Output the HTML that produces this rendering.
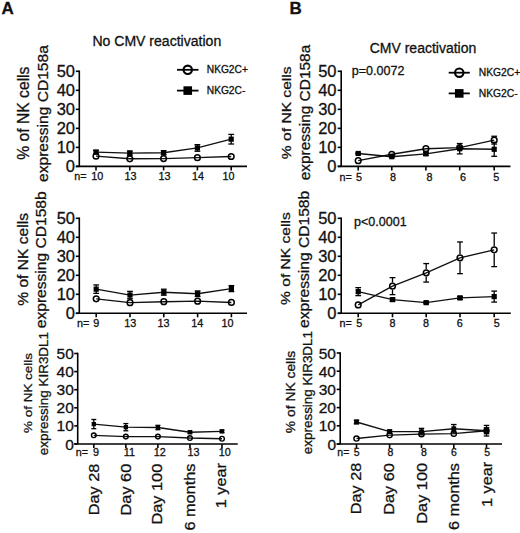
<!DOCTYPE html>
<html><head><meta charset="utf-8"><style>
html,body{margin:0;padding:0;background:#fff;}
svg{display:block;}
text{font-family:"Liberation Sans", sans-serif;fill:#111;stroke:#111;stroke-width:0.3px;}
</style></head><body>
<svg width="520" height="533" viewBox="0 0 520 533">
<text x="1.50" y="14.00" font-size="17" text-anchor="start" font-weight="bold">A</text>
<text x="289.50" y="14.00" font-size="17" text-anchor="start" font-weight="bold">B</text>
<text x="92.40" y="46.20" font-size="14.05" text-anchor="start" font-weight="normal">No CMV reactivation</text>
<text x="369.70" y="52.60" font-size="14.0" text-anchor="start" font-weight="normal">CMV reactivation</text>
<line x1="177" y1="69.8" x2="198.5" y2="69.8" stroke="#000" stroke-width="1.8"/>
<circle cx="187.75" cy="69.8" r="4.2" fill="none" stroke="#000" stroke-width="2.1"/>
<line x1="177" y1="90.6" x2="198.5" y2="90.6" stroke="#000" stroke-width="1.8"/>
<rect x="183.45" y="86.3" width="8.6" height="8.6" fill="#000"/>
<text x="206.80" y="73.45" font-size="10.2" text-anchor="start" font-weight="normal">NKG2C+</text>
<text x="206.80" y="94.25" font-size="10.2" text-anchor="start" font-weight="normal">NKG2C-</text>
<line x1="448.7" y1="72.7" x2="469.8" y2="72.7" stroke="#000" stroke-width="1.8"/>
<circle cx="459.25" cy="72.7" r="4.2" fill="none" stroke="#000" stroke-width="2.1"/>
<line x1="448.7" y1="93.4" x2="469.8" y2="93.4" stroke="#000" stroke-width="1.8"/>
<rect x="454.95" y="89.10000000000001" width="8.6" height="8.6" fill="#000"/>
<text x="478.80" y="76.39" font-size="10.3" text-anchor="start" font-weight="normal">NKG2C+</text>
<text x="478.80" y="97.09" font-size="10.3" text-anchor="start" font-weight="normal">NKG2C-</text>
<text x="351.80" y="75.00" font-size="12.55" text-anchor="start" font-weight="normal">p=0.0072</text>
<text x="354.00" y="225.80" font-size="12.55" text-anchor="start" font-weight="normal">p&lt;0.0001</text>
<text transform="translate(29.10,113.20) rotate(-90)" font-size="15.7" text-anchor="middle" font-weight="normal">% of NK cells</text>
<text transform="translate(47.60,113.60) rotate(-90) scale(1,0.95)" font-size="15.58" text-anchor="middle" font-weight="normal">expressing CD158a</text>
<text transform="translate(27.50,259.40) rotate(-90) scale(1,0.97)" font-size="15.6" text-anchor="middle" font-weight="normal">% of NK cells</text>
<text transform="translate(46.00,259.80) rotate(-90) scale(1,0.95)" font-size="15.6" text-anchor="middle" font-weight="normal">expressing CD158b</text>
<text transform="translate(32.00,393.00) rotate(-90) scale(1,0.88)" font-size="13.45" text-anchor="middle" font-weight="normal">% of NK cells</text>
<text transform="translate(47.80,393.60) rotate(-90) scale(1,0.9)" font-size="13.45" text-anchor="middle" font-weight="normal">expressing KIR3DL1</text>
<text transform="translate(291.30,112.80) rotate(-90) scale(1,0.87)" font-size="15.6" text-anchor="middle" font-weight="normal">% of NK cells</text>
<text transform="translate(310.00,112.55) rotate(-90) scale(1,0.93)" font-size="15.45" text-anchor="middle" font-weight="normal">expressing CD158a</text>
<text transform="translate(290.40,258.60) rotate(-90) scale(1,0.87)" font-size="15.6" text-anchor="middle" font-weight="normal">% of NK cells</text>
<text transform="translate(308.60,259.35) rotate(-90) scale(1,0.92)" font-size="15.62" text-anchor="middle" font-weight="normal">expressing CD158b</text>
<text transform="translate(295.00,392.00) rotate(-90) scale(1,0.98)" font-size="13.85" text-anchor="middle" font-weight="normal">% of NK cells</text>
<text transform="translate(311.60,392.60) rotate(-90) scale(1,0.98)" font-size="13.45" text-anchor="middle" font-weight="normal">expressing KIR3DL1</text>
<line x1="79.3" y1="70.5" x2="79.3" y2="166.4" stroke="#000" stroke-width="1.6"/>
<line x1="75.8" y1="166.4" x2="247" y2="166.4" stroke="#000" stroke-width="1.6"/>
<line x1="75.8" y1="166.40" x2="79.3" y2="166.40" stroke="#000" stroke-width="1.6"/>
<text x="75.00" y="172.31" font-size="16.5" text-anchor="end" font-weight="normal">0</text>
<line x1="75.8" y1="147.38" x2="79.3" y2="147.38" stroke="#000" stroke-width="1.6"/>
<text x="75.00" y="153.29" font-size="16.5" text-anchor="end" font-weight="normal">10</text>
<line x1="75.8" y1="128.36" x2="79.3" y2="128.36" stroke="#000" stroke-width="1.6"/>
<text x="75.00" y="134.27" font-size="16.5" text-anchor="end" font-weight="normal">20</text>
<line x1="75.8" y1="109.34" x2="79.3" y2="109.34" stroke="#000" stroke-width="1.6"/>
<text x="75.00" y="115.25" font-size="16.5" text-anchor="end" font-weight="normal">30</text>
<line x1="75.8" y1="90.32" x2="79.3" y2="90.32" stroke="#000" stroke-width="1.6"/>
<text x="75.00" y="96.23" font-size="16.5" text-anchor="end" font-weight="normal">40</text>
<line x1="75.8" y1="71.30" x2="79.3" y2="71.30" stroke="#000" stroke-width="1.6"/>
<text x="75.00" y="77.21" font-size="16.5" text-anchor="end" font-weight="normal">50</text>
<line x1="96.00" y1="166.4" x2="96.00" y2="170.4" stroke="#000" stroke-width="1.6"/>
<line x1="129.80" y1="166.4" x2="129.80" y2="170.4" stroke="#000" stroke-width="1.6"/>
<line x1="163.60" y1="166.4" x2="163.60" y2="170.4" stroke="#000" stroke-width="1.6"/>
<line x1="197.40" y1="166.4" x2="197.40" y2="170.4" stroke="#000" stroke-width="1.6"/>
<line x1="231.20" y1="166.4" x2="231.20" y2="170.4" stroke="#000" stroke-width="1.6"/>
<line x1="96.00" y1="150.33" x2="96.00" y2="152.13" stroke="#000" stroke-width="1.3"/>
<line x1="96.00" y1="152.13" x2="96.00" y2="153.94" stroke="#000" stroke-width="1.3"/>
<line x1="93.10" y1="150.33" x2="98.90" y2="150.33" stroke="#000" stroke-width="1.3"/>
<line x1="93.10" y1="153.94" x2="98.90" y2="153.94" stroke="#000" stroke-width="1.3"/>
<line x1="129.80" y1="151.09" x2="129.80" y2="153.09" stroke="#000" stroke-width="1.3"/>
<line x1="129.80" y1="153.09" x2="129.80" y2="155.09" stroke="#000" stroke-width="1.3"/>
<line x1="126.90" y1="151.09" x2="132.70" y2="151.09" stroke="#000" stroke-width="1.3"/>
<line x1="126.90" y1="155.09" x2="132.70" y2="155.09" stroke="#000" stroke-width="1.3"/>
<line x1="163.60" y1="150.71" x2="163.60" y2="152.71" stroke="#000" stroke-width="1.3"/>
<line x1="163.60" y1="152.71" x2="163.60" y2="154.71" stroke="#000" stroke-width="1.3"/>
<line x1="160.70" y1="150.71" x2="166.50" y2="150.71" stroke="#000" stroke-width="1.3"/>
<line x1="160.70" y1="154.71" x2="166.50" y2="154.71" stroke="#000" stroke-width="1.3"/>
<line x1="197.40" y1="144.65" x2="197.40" y2="147.95" stroke="#000" stroke-width="1.3"/>
<line x1="197.40" y1="147.95" x2="197.40" y2="151.25" stroke="#000" stroke-width="1.3"/>
<line x1="194.50" y1="144.65" x2="200.30" y2="144.65" stroke="#000" stroke-width="1.3"/>
<line x1="194.50" y1="151.25" x2="200.30" y2="151.25" stroke="#000" stroke-width="1.3"/>
<line x1="231.20" y1="134.40" x2="231.20" y2="139.20" stroke="#000" stroke-width="1.3"/>
<line x1="231.20" y1="139.20" x2="231.20" y2="144.00" stroke="#000" stroke-width="1.3"/>
<line x1="228.30" y1="134.40" x2="234.10" y2="134.40" stroke="#000" stroke-width="1.3"/>
<line x1="228.30" y1="144.00" x2="234.10" y2="144.00" stroke="#000" stroke-width="1.3"/>
<polyline points="96.00,152.13 129.80,153.09 163.60,152.71 197.40,147.95 231.20,139.20" fill="none" stroke="#111" stroke-width="1.35"/>
<polyline points="96.00,156.13 129.80,158.79 163.60,158.60 197.40,157.65 231.20,156.51" fill="none" stroke="#111" stroke-width="1.35"/>
<rect x="93.40" y="149.53" width="5.2" height="5.2" fill="#000"/>
<rect x="127.20" y="150.49" width="5.2" height="5.2" fill="#000"/>
<rect x="161.00" y="150.11" width="5.2" height="5.2" fill="#000"/>
<rect x="194.80" y="145.35" width="5.2" height="5.2" fill="#000"/>
<rect x="228.60" y="136.60" width="5.2" height="5.2" fill="#000"/>
<circle cx="96.00" cy="156.13" r="2.85" fill="none" stroke="#000" stroke-width="1.5"/>
<circle cx="129.80" cy="158.79" r="2.85" fill="none" stroke="#000" stroke-width="1.5"/>
<circle cx="163.60" cy="158.60" r="2.85" fill="none" stroke="#000" stroke-width="1.5"/>
<circle cx="197.40" cy="157.65" r="2.85" fill="none" stroke="#000" stroke-width="1.5"/>
<circle cx="231.20" cy="156.51" r="2.85" fill="none" stroke="#000" stroke-width="1.5"/>
<text x="74.30" y="180.20" font-size="10.8" text-anchor="start" font-weight="normal">n=</text>
<text x="97.30" y="180.20" font-size="10.8" text-anchor="middle" font-weight="normal">10</text>
<text x="130.50" y="180.20" font-size="10.8" text-anchor="middle" font-weight="normal">13</text>
<text x="164.40" y="180.20" font-size="10.8" text-anchor="middle" font-weight="normal">13</text>
<text x="198.10" y="180.20" font-size="10.8" text-anchor="middle" font-weight="normal">14</text>
<text x="228.40" y="180.20" font-size="10.8" text-anchor="middle" font-weight="normal">10</text>
<line x1="79.3" y1="217.5" x2="79.3" y2="313.3" stroke="#000" stroke-width="1.6"/>
<line x1="75.8" y1="313.3" x2="247" y2="313.3" stroke="#000" stroke-width="1.6"/>
<line x1="75.8" y1="313.30" x2="79.3" y2="313.30" stroke="#000" stroke-width="1.6"/>
<text x="75.00" y="319.21" font-size="16.5" text-anchor="end" font-weight="normal">0</text>
<line x1="75.8" y1="294.30" x2="79.3" y2="294.30" stroke="#000" stroke-width="1.6"/>
<text x="75.00" y="300.21" font-size="16.5" text-anchor="end" font-weight="normal">10</text>
<line x1="75.8" y1="275.30" x2="79.3" y2="275.30" stroke="#000" stroke-width="1.6"/>
<text x="75.00" y="281.21" font-size="16.5" text-anchor="end" font-weight="normal">20</text>
<line x1="75.8" y1="256.30" x2="79.3" y2="256.30" stroke="#000" stroke-width="1.6"/>
<text x="75.00" y="262.21" font-size="16.5" text-anchor="end" font-weight="normal">30</text>
<line x1="75.8" y1="237.30" x2="79.3" y2="237.30" stroke="#000" stroke-width="1.6"/>
<text x="75.00" y="243.21" font-size="16.5" text-anchor="end" font-weight="normal">40</text>
<line x1="75.8" y1="218.30" x2="79.3" y2="218.30" stroke="#000" stroke-width="1.6"/>
<text x="75.00" y="224.21" font-size="16.5" text-anchor="end" font-weight="normal">50</text>
<line x1="96.20" y1="313.3" x2="96.20" y2="317.3" stroke="#000" stroke-width="1.6"/>
<line x1="130.00" y1="313.3" x2="130.00" y2="317.3" stroke="#000" stroke-width="1.6"/>
<line x1="163.80" y1="313.3" x2="163.80" y2="317.3" stroke="#000" stroke-width="1.6"/>
<line x1="197.60" y1="313.3" x2="197.60" y2="317.3" stroke="#000" stroke-width="1.6"/>
<line x1="231.40" y1="313.3" x2="231.40" y2="317.3" stroke="#000" stroke-width="1.6"/>
<line x1="96.20" y1="284.97" x2="96.20" y2="289.17" stroke="#000" stroke-width="1.3"/>
<line x1="96.20" y1="289.17" x2="96.20" y2="293.37" stroke="#000" stroke-width="1.3"/>
<line x1="93.30" y1="284.97" x2="99.10" y2="284.97" stroke="#000" stroke-width="1.3"/>
<line x1="93.30" y1="293.37" x2="99.10" y2="293.37" stroke="#000" stroke-width="1.3"/>
<line x1="130.00" y1="291.36" x2="130.00" y2="295.06" stroke="#000" stroke-width="1.3"/>
<line x1="130.00" y1="295.06" x2="130.00" y2="298.76" stroke="#000" stroke-width="1.3"/>
<line x1="127.10" y1="291.36" x2="132.90" y2="291.36" stroke="#000" stroke-width="1.3"/>
<line x1="127.10" y1="298.76" x2="132.90" y2="298.76" stroke="#000" stroke-width="1.3"/>
<line x1="163.80" y1="289.21" x2="163.80" y2="292.21" stroke="#000" stroke-width="1.3"/>
<line x1="163.80" y1="292.21" x2="163.80" y2="295.21" stroke="#000" stroke-width="1.3"/>
<line x1="160.90" y1="289.21" x2="166.70" y2="289.21" stroke="#000" stroke-width="1.3"/>
<line x1="160.90" y1="295.21" x2="166.70" y2="295.21" stroke="#000" stroke-width="1.3"/>
<line x1="197.60" y1="290.93" x2="197.60" y2="293.73" stroke="#000" stroke-width="1.3"/>
<line x1="197.60" y1="293.73" x2="197.60" y2="296.53" stroke="#000" stroke-width="1.3"/>
<line x1="194.70" y1="290.93" x2="200.50" y2="290.93" stroke="#000" stroke-width="1.3"/>
<line x1="194.70" y1="296.53" x2="200.50" y2="296.53" stroke="#000" stroke-width="1.3"/>
<line x1="231.40" y1="285.60" x2="231.40" y2="288.60" stroke="#000" stroke-width="1.3"/>
<line x1="231.40" y1="288.60" x2="231.40" y2="291.60" stroke="#000" stroke-width="1.3"/>
<line x1="228.50" y1="285.60" x2="234.30" y2="285.60" stroke="#000" stroke-width="1.3"/>
<line x1="228.50" y1="291.60" x2="234.30" y2="291.60" stroke="#000" stroke-width="1.3"/>
<polyline points="96.20,289.17 130.00,295.06 163.80,292.21 197.60,293.73 231.40,288.60" fill="none" stroke="#111" stroke-width="1.35"/>
<polyline points="96.20,298.86 130.00,302.66 163.80,301.71 197.60,301.14 231.40,302.47" fill="none" stroke="#111" stroke-width="1.35"/>
<rect x="93.60" y="286.57" width="5.2" height="5.2" fill="#000"/>
<rect x="127.40" y="292.46" width="5.2" height="5.2" fill="#000"/>
<rect x="161.20" y="289.61" width="5.2" height="5.2" fill="#000"/>
<rect x="195.00" y="291.13" width="5.2" height="5.2" fill="#000"/>
<rect x="228.80" y="286.00" width="5.2" height="5.2" fill="#000"/>
<circle cx="96.20" cy="298.86" r="2.85" fill="none" stroke="#000" stroke-width="1.5"/>
<circle cx="130.00" cy="302.66" r="2.85" fill="none" stroke="#000" stroke-width="1.5"/>
<circle cx="163.80" cy="301.71" r="2.85" fill="none" stroke="#000" stroke-width="1.5"/>
<circle cx="197.60" cy="301.14" r="2.85" fill="none" stroke="#000" stroke-width="1.5"/>
<circle cx="231.40" cy="302.47" r="2.85" fill="none" stroke="#000" stroke-width="1.5"/>
<text x="76.90" y="326.70" font-size="10.8" text-anchor="start" font-weight="normal">n=</text>
<text x="96.30" y="326.70" font-size="10.8" text-anchor="middle" font-weight="normal">9</text>
<text x="130.30" y="326.70" font-size="10.8" text-anchor="middle" font-weight="normal">13</text>
<text x="163.50" y="326.70" font-size="10.8" text-anchor="middle" font-weight="normal">13</text>
<text x="197.30" y="326.70" font-size="10.8" text-anchor="middle" font-weight="normal">14</text>
<text x="227.60" y="326.70" font-size="10.8" text-anchor="middle" font-weight="normal">10</text>
<line x1="77.7" y1="352.7" x2="77.7" y2="444" stroke="#000" stroke-width="1.6"/>
<line x1="74.2" y1="444" x2="237.7" y2="444" stroke="#000" stroke-width="1.6"/>
<line x1="74.2" y1="444.00" x2="77.7" y2="444.00" stroke="#000" stroke-width="1.6"/>
<text x="73.80" y="449.55" font-size="15.5" text-anchor="end" font-weight="normal">0</text>
<line x1="74.2" y1="425.90" x2="77.7" y2="425.90" stroke="#000" stroke-width="1.6"/>
<text x="73.80" y="431.45" font-size="15.5" text-anchor="end" font-weight="normal">10</text>
<line x1="74.2" y1="407.80" x2="77.7" y2="407.80" stroke="#000" stroke-width="1.6"/>
<text x="73.80" y="413.35" font-size="15.5" text-anchor="end" font-weight="normal">20</text>
<line x1="74.2" y1="389.70" x2="77.7" y2="389.70" stroke="#000" stroke-width="1.6"/>
<text x="73.80" y="395.25" font-size="15.5" text-anchor="end" font-weight="normal">30</text>
<line x1="74.2" y1="371.60" x2="77.7" y2="371.60" stroke="#000" stroke-width="1.6"/>
<text x="73.80" y="377.15" font-size="15.5" text-anchor="end" font-weight="normal">40</text>
<line x1="74.2" y1="353.50" x2="77.7" y2="353.50" stroke="#000" stroke-width="1.6"/>
<text x="73.80" y="359.05" font-size="15.5" text-anchor="end" font-weight="normal">50</text>
<line x1="93.80" y1="444" x2="93.80" y2="448" stroke="#000" stroke-width="1.6"/>
<line x1="125.85" y1="444" x2="125.85" y2="448" stroke="#000" stroke-width="1.6"/>
<line x1="157.90" y1="444" x2="157.90" y2="448" stroke="#000" stroke-width="1.6"/>
<line x1="189.95" y1="444" x2="189.95" y2="448" stroke="#000" stroke-width="1.6"/>
<line x1="222.00" y1="444" x2="222.00" y2="448" stroke="#000" stroke-width="1.6"/>
<line x1="93.80" y1="419.49" x2="93.80" y2="424.09" stroke="#000" stroke-width="1.3"/>
<line x1="93.80" y1="424.09" x2="93.80" y2="428.69" stroke="#000" stroke-width="1.3"/>
<line x1="91.30" y1="419.49" x2="96.30" y2="419.49" stroke="#000" stroke-width="1.3"/>
<line x1="91.30" y1="428.69" x2="96.30" y2="428.69" stroke="#000" stroke-width="1.3"/>
<line x1="125.85" y1="423.57" x2="125.85" y2="427.17" stroke="#000" stroke-width="1.3"/>
<line x1="125.85" y1="427.17" x2="125.85" y2="430.77" stroke="#000" stroke-width="1.3"/>
<line x1="123.35" y1="423.57" x2="128.35" y2="423.57" stroke="#000" stroke-width="1.3"/>
<line x1="123.35" y1="430.77" x2="128.35" y2="430.77" stroke="#000" stroke-width="1.3"/>
<line x1="157.90" y1="425.33" x2="157.90" y2="427.53" stroke="#000" stroke-width="1.3"/>
<line x1="157.90" y1="427.53" x2="157.90" y2="429.73" stroke="#000" stroke-width="1.3"/>
<line x1="155.40" y1="425.33" x2="160.40" y2="425.33" stroke="#000" stroke-width="1.3"/>
<line x1="155.40" y1="429.73" x2="160.40" y2="429.73" stroke="#000" stroke-width="1.3"/>
<line x1="189.95" y1="431.04" x2="189.95" y2="432.24" stroke="#000" stroke-width="1.3"/>
<line x1="189.95" y1="432.24" x2="189.95" y2="433.44" stroke="#000" stroke-width="1.3"/>
<line x1="187.45" y1="431.04" x2="192.45" y2="431.04" stroke="#000" stroke-width="1.3"/>
<line x1="187.45" y1="433.44" x2="192.45" y2="433.44" stroke="#000" stroke-width="1.3"/>
<line x1="222.00" y1="430.13" x2="222.00" y2="431.33" stroke="#000" stroke-width="1.3"/>
<line x1="222.00" y1="431.33" x2="222.00" y2="432.53" stroke="#000" stroke-width="1.3"/>
<line x1="219.50" y1="430.13" x2="224.50" y2="430.13" stroke="#000" stroke-width="1.3"/>
<line x1="219.50" y1="432.53" x2="224.50" y2="432.53" stroke="#000" stroke-width="1.3"/>
<polyline points="93.80,424.09 125.85,427.17 157.90,427.53 189.95,432.24 222.00,431.33" fill="none" stroke="#111" stroke-width="1.35"/>
<polyline points="93.80,435.31 125.85,436.58 157.90,436.58 189.95,438.03 222.00,438.75" fill="none" stroke="#111" stroke-width="1.35"/>
<rect x="91.65" y="421.94" width="4.3" height="4.3" fill="#000"/>
<rect x="123.70" y="425.02" width="4.3" height="4.3" fill="#000"/>
<rect x="155.75" y="425.38" width="4.3" height="4.3" fill="#000"/>
<rect x="187.80" y="430.09" width="4.3" height="4.3" fill="#000"/>
<rect x="219.85" y="429.18" width="4.3" height="4.3" fill="#000"/>
<circle cx="93.80" cy="435.31" r="2.35" fill="none" stroke="#000" stroke-width="1.4"/>
<circle cx="125.85" cy="436.58" r="2.35" fill="none" stroke="#000" stroke-width="1.4"/>
<circle cx="157.90" cy="436.58" r="2.35" fill="none" stroke="#000" stroke-width="1.4"/>
<circle cx="189.95" cy="438.03" r="2.35" fill="none" stroke="#000" stroke-width="1.4"/>
<circle cx="222.00" cy="438.75" r="2.35" fill="none" stroke="#000" stroke-width="1.4"/>
<text x="75.80" y="455.70" font-size="10.8" text-anchor="start" font-weight="normal">n=</text>
<text x="96.10" y="455.70" font-size="10.8" text-anchor="middle" font-weight="normal">9</text>
<text x="129.30" y="455.70" font-size="10.8" text-anchor="middle" font-weight="normal">11</text>
<text x="159.70" y="455.70" font-size="10.8" text-anchor="middle" font-weight="normal">12</text>
<text x="193.50" y="455.70" font-size="10.8" text-anchor="middle" font-weight="normal">13</text>
<text x="224.70" y="455.70" font-size="10.8" text-anchor="middle" font-weight="normal">10</text>
<line x1="341.2" y1="70.5" x2="341.2" y2="166.4" stroke="#000" stroke-width="1.6"/>
<line x1="337.7" y1="166.4" x2="510.5" y2="166.4" stroke="#000" stroke-width="1.6"/>
<line x1="337.7" y1="166.40" x2="341.2" y2="166.40" stroke="#000" stroke-width="1.6"/>
<text x="336.50" y="172.31" font-size="16.5" text-anchor="end" font-weight="normal">0</text>
<line x1="337.7" y1="147.38" x2="341.2" y2="147.38" stroke="#000" stroke-width="1.6"/>
<text x="336.50" y="153.29" font-size="16.5" text-anchor="end" font-weight="normal">10</text>
<line x1="337.7" y1="128.36" x2="341.2" y2="128.36" stroke="#000" stroke-width="1.6"/>
<text x="336.50" y="134.27" font-size="16.5" text-anchor="end" font-weight="normal">20</text>
<line x1="337.7" y1="109.34" x2="341.2" y2="109.34" stroke="#000" stroke-width="1.6"/>
<text x="336.50" y="115.25" font-size="16.5" text-anchor="end" font-weight="normal">30</text>
<line x1="337.7" y1="90.32" x2="341.2" y2="90.32" stroke="#000" stroke-width="1.6"/>
<text x="336.50" y="96.23" font-size="16.5" text-anchor="end" font-weight="normal">40</text>
<line x1="337.7" y1="71.30" x2="341.2" y2="71.30" stroke="#000" stroke-width="1.6"/>
<text x="336.50" y="77.21" font-size="16.5" text-anchor="end" font-weight="normal">50</text>
<line x1="358.20" y1="166.4" x2="358.20" y2="170.4" stroke="#000" stroke-width="1.6"/>
<line x1="391.80" y1="166.4" x2="391.80" y2="170.4" stroke="#000" stroke-width="1.6"/>
<line x1="425.90" y1="166.4" x2="425.90" y2="170.4" stroke="#000" stroke-width="1.6"/>
<line x1="459.70" y1="166.4" x2="459.70" y2="170.4" stroke="#000" stroke-width="1.6"/>
<line x1="494.20" y1="166.4" x2="494.20" y2="170.4" stroke="#000" stroke-width="1.6"/>
<line x1="358.20" y1="152.97" x2="358.20" y2="153.47" stroke="#000" stroke-width="1.3"/>
<line x1="358.20" y1="153.47" x2="358.20" y2="153.97" stroke="#000" stroke-width="1.3"/>
<line x1="355.30" y1="152.97" x2="361.10" y2="152.97" stroke="#000" stroke-width="1.3"/>
<line x1="355.30" y1="153.97" x2="361.10" y2="153.97" stroke="#000" stroke-width="1.3"/>
<line x1="391.80" y1="156.10" x2="391.80" y2="156.70" stroke="#000" stroke-width="1.3"/>
<line x1="391.80" y1="156.70" x2="391.80" y2="157.30" stroke="#000" stroke-width="1.3"/>
<line x1="388.90" y1="156.10" x2="394.70" y2="156.10" stroke="#000" stroke-width="1.3"/>
<line x1="388.90" y1="157.30" x2="394.70" y2="157.30" stroke="#000" stroke-width="1.3"/>
<line x1="425.90" y1="152.35" x2="425.90" y2="153.85" stroke="#000" stroke-width="1.3"/>
<line x1="425.90" y1="153.85" x2="425.90" y2="155.35" stroke="#000" stroke-width="1.3"/>
<line x1="423.00" y1="152.35" x2="428.80" y2="152.35" stroke="#000" stroke-width="1.3"/>
<line x1="423.00" y1="155.35" x2="428.80" y2="155.35" stroke="#000" stroke-width="1.3"/>
<line x1="459.70" y1="143.51" x2="459.70" y2="148.71" stroke="#000" stroke-width="1.3"/>
<line x1="459.70" y1="148.71" x2="459.70" y2="153.91" stroke="#000" stroke-width="1.3"/>
<line x1="456.80" y1="143.51" x2="462.60" y2="143.51" stroke="#000" stroke-width="1.3"/>
<line x1="456.80" y1="153.91" x2="462.60" y2="153.91" stroke="#000" stroke-width="1.3"/>
<line x1="494.20" y1="142.28" x2="494.20" y2="149.28" stroke="#000" stroke-width="1.3"/>
<line x1="494.20" y1="149.28" x2="494.20" y2="156.28" stroke="#000" stroke-width="1.3"/>
<line x1="491.30" y1="142.28" x2="497.10" y2="142.28" stroke="#000" stroke-width="1.3"/>
<line x1="491.30" y1="156.28" x2="497.10" y2="156.28" stroke="#000" stroke-width="1.3"/>
<line x1="494.20" y1="136.25" x2="494.20" y2="136.55" stroke="#000" stroke-width="1.3"/>
<line x1="494.20" y1="143.75" x2="494.20" y2="144.05" stroke="#000" stroke-width="1.3"/>
<line x1="491.30" y1="136.25" x2="497.10" y2="136.25" stroke="#000" stroke-width="1.3"/>
<line x1="491.30" y1="144.05" x2="497.10" y2="144.05" stroke="#000" stroke-width="1.3"/>
<polyline points="358.20,153.47 391.80,156.70 425.90,153.85 459.70,148.71 494.20,149.28" fill="none" stroke="#111" stroke-width="1.35"/>
<polyline points="358.20,160.69 391.80,154.23 425.90,148.71 459.70,147.57 494.20,140.15" fill="none" stroke="#111" stroke-width="1.35"/>
<rect x="355.60" y="150.87" width="5.2" height="5.2" fill="#000"/>
<rect x="389.20" y="154.10" width="5.2" height="5.2" fill="#000"/>
<rect x="423.30" y="151.25" width="5.2" height="5.2" fill="#000"/>
<rect x="457.10" y="146.11" width="5.2" height="5.2" fill="#000"/>
<rect x="491.60" y="146.68" width="5.2" height="5.2" fill="#000"/>
<circle cx="358.20" cy="160.69" r="2.85" fill="none" stroke="#000" stroke-width="1.5"/>
<circle cx="391.80" cy="154.23" r="2.85" fill="none" stroke="#000" stroke-width="1.5"/>
<circle cx="425.90" cy="148.71" r="2.85" fill="none" stroke="#000" stroke-width="1.5"/>
<circle cx="459.70" cy="147.57" r="2.85" fill="none" stroke="#000" stroke-width="1.5"/>
<circle cx="494.20" cy="140.15" r="2.85" fill="none" stroke="#000" stroke-width="1.5"/>
<text x="339.50" y="181.00" font-size="10.8" text-anchor="start" font-weight="normal">n=</text>
<text x="358.90" y="181.00" font-size="10.8" text-anchor="middle" font-weight="normal">5</text>
<text x="393.00" y="181.00" font-size="10.8" text-anchor="middle" font-weight="normal">8</text>
<text x="429.50" y="181.00" font-size="10.8" text-anchor="middle" font-weight="normal">8</text>
<text x="463.00" y="181.00" font-size="10.8" text-anchor="middle" font-weight="normal">6</text>
<text x="496.30" y="181.00" font-size="10.8" text-anchor="middle" font-weight="normal">5</text>
<line x1="341.2" y1="217.5" x2="341.2" y2="313.3" stroke="#000" stroke-width="1.6"/>
<line x1="337.7" y1="313.3" x2="510.8" y2="313.3" stroke="#000" stroke-width="1.6"/>
<line x1="337.7" y1="313.30" x2="341.2" y2="313.30" stroke="#000" stroke-width="1.6"/>
<text x="336.50" y="319.21" font-size="16.5" text-anchor="end" font-weight="normal">0</text>
<line x1="337.7" y1="294.30" x2="341.2" y2="294.30" stroke="#000" stroke-width="1.6"/>
<text x="336.50" y="300.21" font-size="16.5" text-anchor="end" font-weight="normal">10</text>
<line x1="337.7" y1="275.30" x2="341.2" y2="275.30" stroke="#000" stroke-width="1.6"/>
<text x="336.50" y="281.21" font-size="16.5" text-anchor="end" font-weight="normal">20</text>
<line x1="337.7" y1="256.30" x2="341.2" y2="256.30" stroke="#000" stroke-width="1.6"/>
<text x="336.50" y="262.21" font-size="16.5" text-anchor="end" font-weight="normal">30</text>
<line x1="337.7" y1="237.30" x2="341.2" y2="237.30" stroke="#000" stroke-width="1.6"/>
<text x="336.50" y="243.21" font-size="16.5" text-anchor="end" font-weight="normal">40</text>
<line x1="337.7" y1="218.30" x2="341.2" y2="218.30" stroke="#000" stroke-width="1.6"/>
<text x="336.50" y="224.21" font-size="16.5" text-anchor="end" font-weight="normal">50</text>
<line x1="358.20" y1="313.3" x2="358.20" y2="317.3" stroke="#000" stroke-width="1.6"/>
<line x1="392.50" y1="313.3" x2="392.50" y2="317.3" stroke="#000" stroke-width="1.6"/>
<line x1="426.20" y1="313.3" x2="426.20" y2="317.3" stroke="#000" stroke-width="1.6"/>
<line x1="460.00" y1="313.3" x2="460.00" y2="317.3" stroke="#000" stroke-width="1.6"/>
<line x1="494.20" y1="313.3" x2="494.20" y2="317.3" stroke="#000" stroke-width="1.6"/>
<line x1="358.20" y1="287.64" x2="358.20" y2="291.64" stroke="#000" stroke-width="1.3"/>
<line x1="358.20" y1="291.64" x2="358.20" y2="295.64" stroke="#000" stroke-width="1.3"/>
<line x1="355.30" y1="287.64" x2="361.10" y2="287.64" stroke="#000" stroke-width="1.3"/>
<line x1="355.30" y1="295.64" x2="361.10" y2="295.64" stroke="#000" stroke-width="1.3"/>
<line x1="392.50" y1="298.12" x2="392.50" y2="299.62" stroke="#000" stroke-width="1.3"/>
<line x1="392.50" y1="299.62" x2="392.50" y2="301.12" stroke="#000" stroke-width="1.3"/>
<line x1="389.60" y1="298.12" x2="395.40" y2="298.12" stroke="#000" stroke-width="1.3"/>
<line x1="389.60" y1="301.12" x2="395.40" y2="301.12" stroke="#000" stroke-width="1.3"/>
<line x1="426.20" y1="301.66" x2="426.20" y2="302.66" stroke="#000" stroke-width="1.3"/>
<line x1="426.20" y1="302.66" x2="426.20" y2="303.66" stroke="#000" stroke-width="1.3"/>
<line x1="423.30" y1="301.66" x2="429.10" y2="301.66" stroke="#000" stroke-width="1.3"/>
<line x1="423.30" y1="303.66" x2="429.10" y2="303.66" stroke="#000" stroke-width="1.3"/>
<line x1="460.00" y1="296.41" x2="460.00" y2="297.91" stroke="#000" stroke-width="1.3"/>
<line x1="460.00" y1="297.91" x2="460.00" y2="299.41" stroke="#000" stroke-width="1.3"/>
<line x1="457.10" y1="296.41" x2="462.90" y2="296.41" stroke="#000" stroke-width="1.3"/>
<line x1="457.10" y1="299.41" x2="462.90" y2="299.41" stroke="#000" stroke-width="1.3"/>
<line x1="494.20" y1="291.08" x2="494.20" y2="296.58" stroke="#000" stroke-width="1.3"/>
<line x1="494.20" y1="296.58" x2="494.20" y2="302.08" stroke="#000" stroke-width="1.3"/>
<line x1="491.30" y1="291.08" x2="497.10" y2="291.08" stroke="#000" stroke-width="1.3"/>
<line x1="491.30" y1="302.08" x2="497.10" y2="302.08" stroke="#000" stroke-width="1.3"/>
<line x1="392.50" y1="277.63" x2="392.50" y2="282.53" stroke="#000" stroke-width="1.3"/>
<line x1="392.50" y1="289.73" x2="392.50" y2="294.63" stroke="#000" stroke-width="1.3"/>
<line x1="389.60" y1="277.63" x2="395.40" y2="277.63" stroke="#000" stroke-width="1.3"/>
<line x1="389.60" y1="294.63" x2="395.40" y2="294.63" stroke="#000" stroke-width="1.3"/>
<line x1="426.20" y1="263.58" x2="426.20" y2="269.23" stroke="#000" stroke-width="1.3"/>
<line x1="426.20" y1="276.43" x2="426.20" y2="282.08" stroke="#000" stroke-width="1.3"/>
<line x1="423.30" y1="263.58" x2="429.10" y2="263.58" stroke="#000" stroke-width="1.3"/>
<line x1="423.30" y1="282.08" x2="429.10" y2="282.08" stroke="#000" stroke-width="1.3"/>
<line x1="460.00" y1="241.97" x2="460.00" y2="254.22" stroke="#000" stroke-width="1.3"/>
<line x1="460.00" y1="261.42" x2="460.00" y2="273.67" stroke="#000" stroke-width="1.3"/>
<line x1="457.10" y1="241.97" x2="462.90" y2="241.97" stroke="#000" stroke-width="1.3"/>
<line x1="457.10" y1="273.67" x2="462.90" y2="273.67" stroke="#000" stroke-width="1.3"/>
<line x1="494.20" y1="233.04" x2="494.20" y2="246.24" stroke="#000" stroke-width="1.3"/>
<line x1="494.20" y1="253.44" x2="494.20" y2="266.64" stroke="#000" stroke-width="1.3"/>
<line x1="491.30" y1="233.04" x2="497.10" y2="233.04" stroke="#000" stroke-width="1.3"/>
<line x1="491.30" y1="266.64" x2="497.10" y2="266.64" stroke="#000" stroke-width="1.3"/>
<polyline points="358.20,291.64 392.50,299.62 426.20,302.66 460.00,297.91 494.20,296.58" fill="none" stroke="#111" stroke-width="1.35"/>
<polyline points="358.20,304.94 392.50,286.13 426.20,272.83 460.00,257.82 494.20,249.84" fill="none" stroke="#111" stroke-width="1.35"/>
<rect x="355.60" y="289.04" width="5.2" height="5.2" fill="#000"/>
<rect x="389.90" y="297.02" width="5.2" height="5.2" fill="#000"/>
<rect x="423.60" y="300.06" width="5.2" height="5.2" fill="#000"/>
<rect x="457.40" y="295.31" width="5.2" height="5.2" fill="#000"/>
<rect x="491.60" y="293.98" width="5.2" height="5.2" fill="#000"/>
<circle cx="358.20" cy="304.94" r="2.85" fill="none" stroke="#000" stroke-width="1.5"/>
<circle cx="392.50" cy="286.13" r="2.85" fill="none" stroke="#000" stroke-width="1.5"/>
<circle cx="426.20" cy="272.83" r="2.85" fill="none" stroke="#000" stroke-width="1.5"/>
<circle cx="460.00" cy="257.82" r="2.85" fill="none" stroke="#000" stroke-width="1.5"/>
<circle cx="494.20" cy="249.84" r="2.85" fill="none" stroke="#000" stroke-width="1.5"/>
<text x="339.50" y="326.50" font-size="10.8" text-anchor="start" font-weight="normal">n=</text>
<text x="359.30" y="326.50" font-size="10.8" text-anchor="middle" font-weight="normal">5</text>
<text x="392.60" y="326.50" font-size="10.8" text-anchor="middle" font-weight="normal">8</text>
<text x="426.00" y="326.50" font-size="10.8" text-anchor="middle" font-weight="normal">8</text>
<text x="459.70" y="326.50" font-size="10.8" text-anchor="middle" font-weight="normal">6</text>
<text x="496.70" y="326.50" font-size="10.8" text-anchor="middle" font-weight="normal">5</text>
<line x1="340.2" y1="352.2" x2="340.2" y2="444" stroke="#000" stroke-width="1.6"/>
<line x1="336.7" y1="444" x2="502" y2="444" stroke="#000" stroke-width="1.6"/>
<line x1="336.7" y1="444.00" x2="340.2" y2="444.00" stroke="#000" stroke-width="1.6"/>
<text x="336.00" y="449.55" font-size="15.5" text-anchor="end" font-weight="normal">0</text>
<line x1="336.7" y1="425.80" x2="340.2" y2="425.80" stroke="#000" stroke-width="1.6"/>
<text x="336.00" y="431.35" font-size="15.5" text-anchor="end" font-weight="normal">10</text>
<line x1="336.7" y1="407.60" x2="340.2" y2="407.60" stroke="#000" stroke-width="1.6"/>
<text x="336.00" y="413.15" font-size="15.5" text-anchor="end" font-weight="normal">20</text>
<line x1="336.7" y1="389.40" x2="340.2" y2="389.40" stroke="#000" stroke-width="1.6"/>
<text x="336.00" y="394.95" font-size="15.5" text-anchor="end" font-weight="normal">30</text>
<line x1="336.7" y1="371.20" x2="340.2" y2="371.20" stroke="#000" stroke-width="1.6"/>
<text x="336.00" y="376.75" font-size="15.5" text-anchor="end" font-weight="normal">40</text>
<line x1="336.7" y1="353.00" x2="340.2" y2="353.00" stroke="#000" stroke-width="1.6"/>
<text x="336.00" y="358.55" font-size="15.5" text-anchor="end" font-weight="normal">50</text>
<line x1="356.50" y1="444" x2="356.50" y2="448" stroke="#000" stroke-width="1.6"/>
<line x1="389.60" y1="444" x2="389.60" y2="448" stroke="#000" stroke-width="1.6"/>
<line x1="421.50" y1="444" x2="421.50" y2="448" stroke="#000" stroke-width="1.6"/>
<line x1="453.80" y1="444" x2="453.80" y2="448" stroke="#000" stroke-width="1.6"/>
<line x1="486.50" y1="444" x2="486.50" y2="448" stroke="#000" stroke-width="1.6"/>
<line x1="356.50" y1="420.18" x2="356.50" y2="421.98" stroke="#000" stroke-width="1.3"/>
<line x1="356.50" y1="421.98" x2="356.50" y2="423.78" stroke="#000" stroke-width="1.3"/>
<line x1="353.75" y1="420.18" x2="359.25" y2="420.18" stroke="#000" stroke-width="1.3"/>
<line x1="353.75" y1="423.78" x2="359.25" y2="423.78" stroke="#000" stroke-width="1.3"/>
<line x1="389.60" y1="430.12" x2="389.60" y2="431.62" stroke="#000" stroke-width="1.3"/>
<line x1="389.60" y1="431.62" x2="389.60" y2="433.12" stroke="#000" stroke-width="1.3"/>
<line x1="386.85" y1="430.12" x2="392.35" y2="430.12" stroke="#000" stroke-width="1.3"/>
<line x1="386.85" y1="433.12" x2="392.35" y2="433.12" stroke="#000" stroke-width="1.3"/>
<line x1="421.50" y1="428.37" x2="421.50" y2="431.62" stroke="#000" stroke-width="1.3"/>
<line x1="421.50" y1="431.62" x2="421.50" y2="434.87" stroke="#000" stroke-width="1.3"/>
<line x1="418.75" y1="428.37" x2="424.25" y2="428.37" stroke="#000" stroke-width="1.3"/>
<line x1="418.75" y1="434.87" x2="424.25" y2="434.87" stroke="#000" stroke-width="1.3"/>
<line x1="453.80" y1="424.51" x2="453.80" y2="428.71" stroke="#000" stroke-width="1.3"/>
<line x1="453.80" y1="428.71" x2="453.80" y2="432.91" stroke="#000" stroke-width="1.3"/>
<line x1="451.05" y1="424.51" x2="456.55" y2="424.51" stroke="#000" stroke-width="1.3"/>
<line x1="451.05" y1="432.91" x2="456.55" y2="432.91" stroke="#000" stroke-width="1.3"/>
<line x1="486.50" y1="427.71" x2="486.50" y2="430.71" stroke="#000" stroke-width="1.3"/>
<line x1="486.50" y1="430.71" x2="486.50" y2="433.71" stroke="#000" stroke-width="1.3"/>
<line x1="483.75" y1="427.71" x2="489.25" y2="427.71" stroke="#000" stroke-width="1.3"/>
<line x1="483.75" y1="433.71" x2="489.25" y2="433.71" stroke="#000" stroke-width="1.3"/>
<line x1="486.50" y1="425.41" x2="486.50" y2="427.41" stroke="#000" stroke-width="1.3"/>
<line x1="486.50" y1="434.01" x2="486.50" y2="436.01" stroke="#000" stroke-width="1.3"/>
<line x1="483.75" y1="425.41" x2="489.25" y2="425.41" stroke="#000" stroke-width="1.3"/>
<line x1="483.75" y1="436.01" x2="489.25" y2="436.01" stroke="#000" stroke-width="1.3"/>
<polyline points="356.50,421.98 389.60,431.62 421.50,431.62 453.80,428.71 486.50,430.71" fill="none" stroke="#111" stroke-width="1.35"/>
<polyline points="356.50,438.54 389.60,435.08 421.50,434.17 453.80,433.63 486.50,430.71" fill="none" stroke="#111" stroke-width="1.35"/>
<rect x="354.10" y="419.58" width="4.8" height="4.8" fill="#000"/>
<rect x="387.20" y="429.22" width="4.8" height="4.8" fill="#000"/>
<rect x="419.10" y="429.22" width="4.8" height="4.8" fill="#000"/>
<rect x="451.40" y="426.31" width="4.8" height="4.8" fill="#000"/>
<rect x="484.10" y="428.31" width="4.8" height="4.8" fill="#000"/>
<circle cx="356.50" cy="438.54" r="2.6" fill="none" stroke="#000" stroke-width="1.4"/>
<circle cx="389.60" cy="435.08" r="2.6" fill="none" stroke="#000" stroke-width="1.4"/>
<circle cx="421.50" cy="434.17" r="2.6" fill="none" stroke="#000" stroke-width="1.4"/>
<circle cx="453.80" cy="433.63" r="2.6" fill="none" stroke="#000" stroke-width="1.4"/>
<circle cx="486.50" cy="430.71" r="2.6" fill="none" stroke="#000" stroke-width="1.4"/>
<text x="337.30" y="456.20" font-size="10.5" text-anchor="start" font-weight="normal">n=</text>
<text x="356.70" y="456.20" font-size="10.5" text-anchor="middle" font-weight="normal">5</text>
<text x="390.30" y="456.20" font-size="10.5" text-anchor="middle" font-weight="normal">8</text>
<text x="423.90" y="456.20" font-size="10.5" text-anchor="middle" font-weight="normal">8</text>
<text x="453.80" y="456.20" font-size="10.5" text-anchor="middle" font-weight="normal">6</text>
<text x="487.10" y="456.20" font-size="10.5" text-anchor="middle" font-weight="normal">5</text>
<text transform="translate(98.80,463.60) rotate(-90) scale(1,0.95)" font-size="16.3" text-anchor="end" font-weight="normal">Day 28</text>
<text transform="translate(131.05,463.80) rotate(-90) scale(1,0.95)" font-size="16.3" text-anchor="end" font-weight="normal">Day 60</text>
<text transform="translate(162.40,463.80) rotate(-90) scale(1,0.95)" font-size="16.3" text-anchor="end" font-weight="normal">Day 100</text>
<text transform="translate(194.65,463.60) rotate(-90) scale(1,0.95)" font-size="16.3" text-anchor="end" font-weight="normal">6 months</text>
<text transform="translate(226.30,463.00) rotate(-90) scale(1,0.95)" font-size="16.3" text-anchor="end" font-weight="normal">1 year</text>
<text transform="translate(361.20,462.60) rotate(-90) scale(1,0.95)" font-size="16.3" text-anchor="end" font-weight="normal">Day 28</text>
<text transform="translate(393.60,463.20) rotate(-90) scale(1,0.95)" font-size="16.3" text-anchor="end" font-weight="normal">Day 60</text>
<text transform="translate(426.50,463.00) rotate(-90) scale(1,0.95)" font-size="16.3" text-anchor="end" font-weight="normal">Day 100</text>
<text transform="translate(459.30,463.00) rotate(-90) scale(1,0.95)" font-size="16.3" text-anchor="end" font-weight="normal">6 months</text>
<text transform="translate(492.00,461.80) rotate(-90) scale(1,0.95)" font-size="16.3" text-anchor="end" font-weight="normal">1 year</text>
</svg>
</body></html>
